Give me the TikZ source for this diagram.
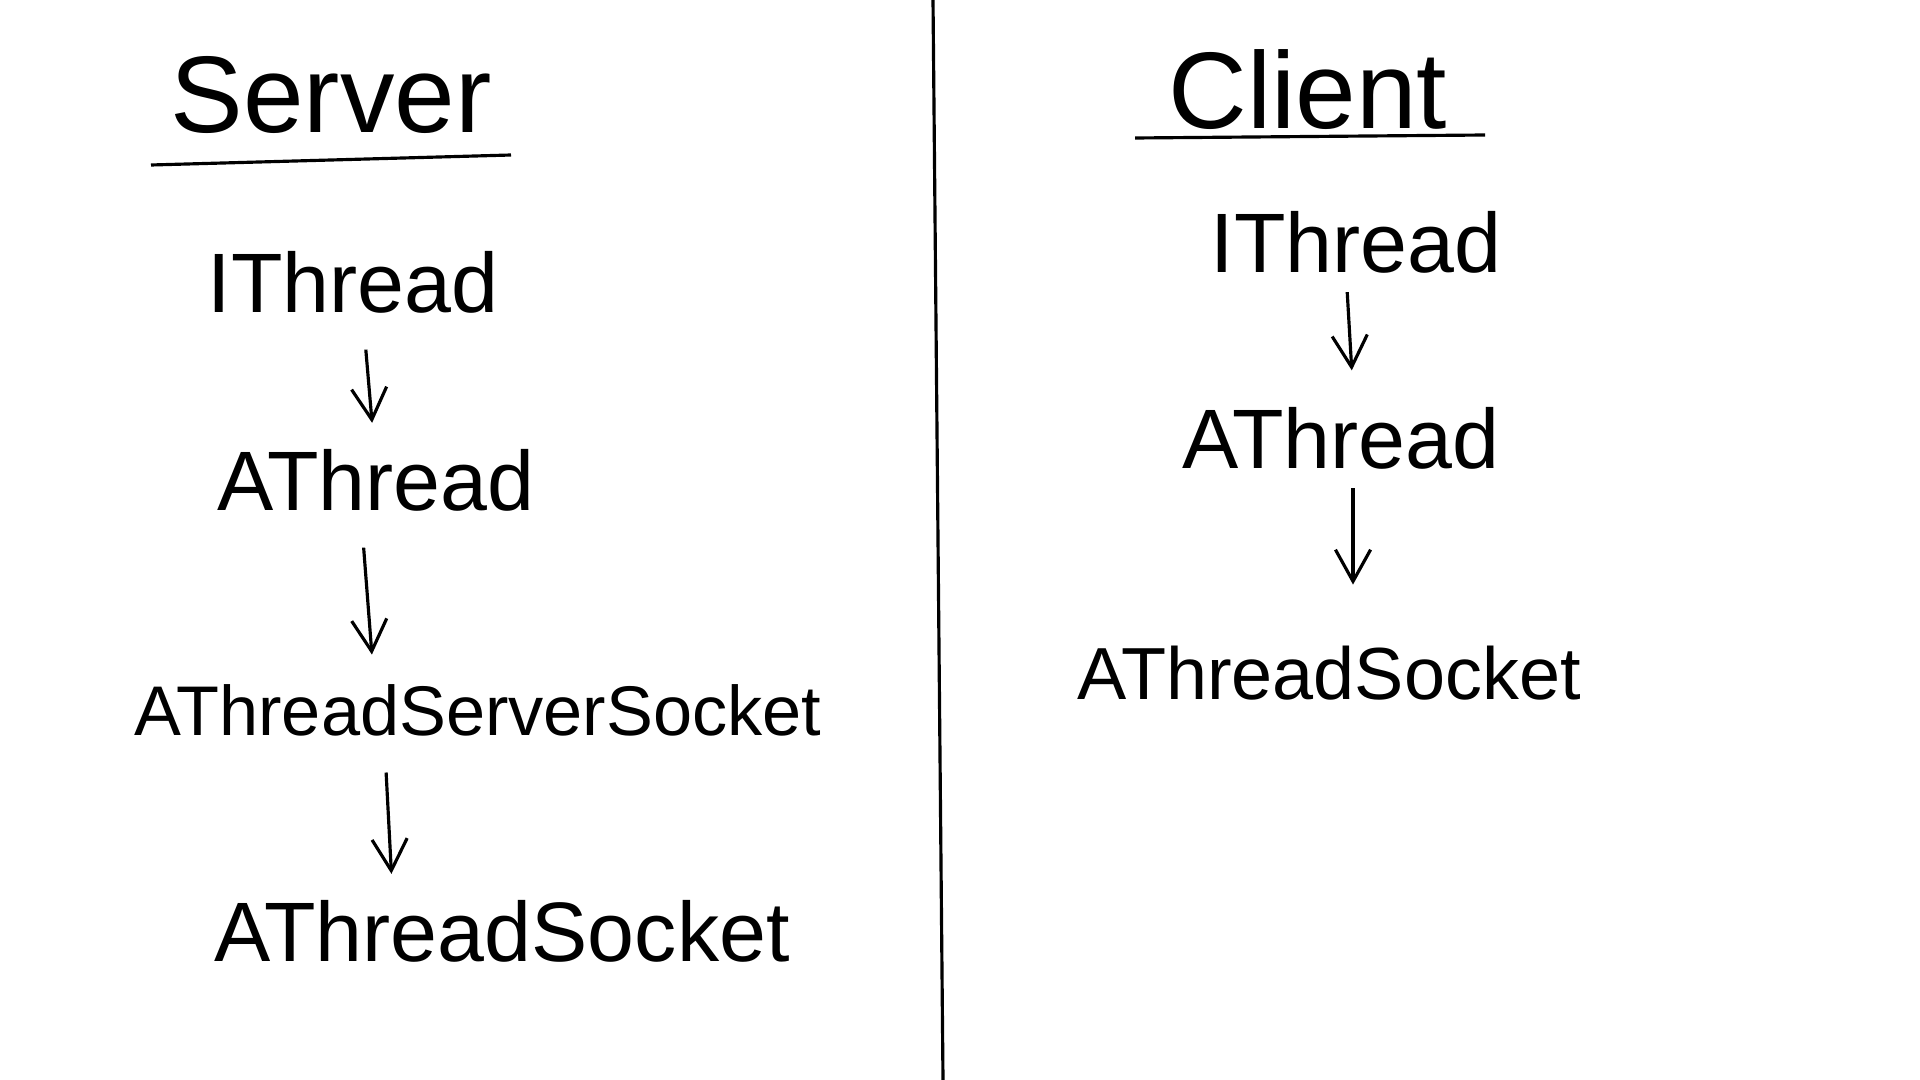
\documentclass[tikz,border=0pt]{standalone}
\usepackage{fontspec}
\setmainfont{Liberation Sans}
\usepackage{tikz}
\usetikzlibrary{arrows.meta}

\begin{document}
\begin{tikzpicture}[line width=0.9pt,
    title/.style={inner sep=2pt,font=\fontsize{31}{35}\selectfont},
    cls/.style={inner sep=4pt,font=\fontsize{24}{28}\selectfont},
    arr/.style={-{Straight Barb[length=9pt,width=10pt]},shorten <=6pt,shorten >=3pt}]
  \useasboundingbox (0,0) rectangle (19.2,-10.8);

  % divider between the two sides
  \draw (9.33,0) -- (9.43,-10.8);

  % server side
  \node[title] (srv) at (3.31,-0.95) {Server};
  \draw (1.51,-1.65) -- (5.11,-1.55);
  \node[cls] (sI)   at (3.53,-2.82) {IThread};
  \node[cls] (sA)   at (3.76,-4.80) {AThread};
  \node[cls,font=\fontsize{20}{24}\selectfont] (sASS) at (4.78,-7.10) {AThreadServerSocket};
  \node[cls] (sAS)  at (5.02,-9.31) {AThreadSocket};
  \draw[arr] ([xshift=0.11cm]sI.south) -- ([xshift=-0.03cm]sA.north);
  \draw[arr,shorten <=6pt,shorten >=4pt] ([xshift=-0.14cm]sA.south) -- ([xshift=-1.05cm]sASS.north);
  \draw[arr] ([xshift=-0.93cm]sASS.south) -- ([xshift=-1.10cm]sAS.north);

  % client side
  \node[title] (cli) at (13.08,-0.90) {Client};
  \draw (11.35,-1.38) -- (14.85,-1.35);
  \node[cls] (cI)  at (13.56,-2.42) {IThread};
  \node[cls] (cA)  at (13.41,-4.38) {AThread};
  \node[cls,font=\fontsize{21}{25}\selectfont] (cAS) at (13.29,-6.73) {AThreadSocket};
  \draw[arr,shorten <=1pt,shorten >=6pt] ([xshift=-0.09cm]cI.south) -- ([xshift=0.12cm]cA.north);
  \draw[arr,shorten <=1pt,shorten >=13pt] ([xshift=0.12cm]cA.south) -- ([xshift=0.24cm]cAS.north);
\end{tikzpicture}
\end{document}
